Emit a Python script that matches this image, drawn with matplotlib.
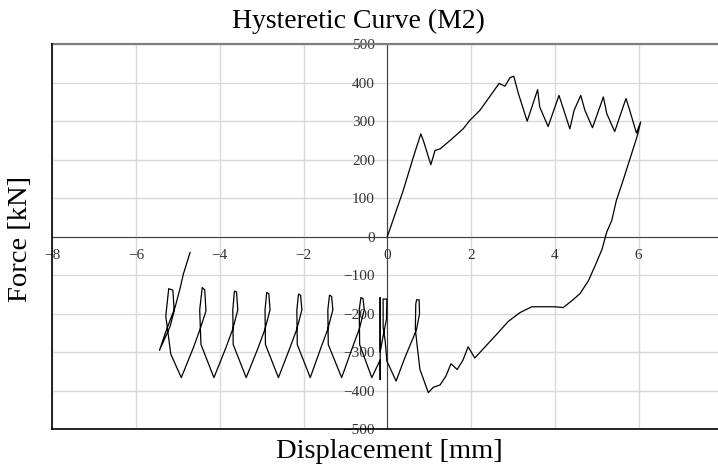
import matplotlib
matplotlib.use("Agg")
import matplotlib.pyplot as plt

# loading branch, 0 -> +6 mm
load_disp = [0.00, 0.38, 0.62, 0.80, 0.86, 1.04, 1.14, 1.26, 1.50, 1.81, 1.97, 2.21,
             2.67, 2.81, 2.93, 3.02, 3.13, 3.34, 3.59, 3.64, 3.84, 4.10, 4.36, 4.46,
             4.62, 4.72, 4.90, 5.16, 5.24, 5.43, 5.55, 5.70, 5.79, 5.95, 6.05]
load_force = [0, 120, 206, 267, 250, 187, 224, 228, 250, 280, 302, 328,
              398, 391, 413, 417, 372, 300, 382, 337, 286, 367, 280, 328,
              367, 328, 283, 363, 320, 273, 311, 359, 328, 269, 298]

# unloading branch, +6 mm back to about +1 mm
unload_disp = [5.97, 5.63, 5.47, 5.36, 5.24, 5.13, 4.98, 4.80, 4.60, 4.40, 4.20, 4.00,
               3.45, 3.17, 2.89, 2.65, 2.37, 2.09, 1.93, 1.81, 1.67, 1.52, 1.40, 1.26,
               1.10, 0.98]
unload_force = [262, 146, 94, 42, 12, -32, -71, -115, -148, -167, -184, -182,
                -182, -197, -220, -249, -282, -315, -286, -320, -345, -330, -362, -385,
                -391, -405]

# negative cycles, right to left
cyc_disp = [0.78, 0.72, 0.67, 0.68, 0.70, 0.76, 0.77, 0.70, 0.62, 0.42, 0.21,
            -0.01, -0.05, -0.10, -0.10, -0.01, -0.02, -0.10, -0.17, -0.17, -0.17, -0.17, -0.37,
            -0.66, -0.67, -0.63, -0.58, -0.55, -0.67, -0.84, -1.09,
            -1.41, -1.42, -1.38, -1.33, -1.30, -1.42, -1.59, -1.84,
            -2.15, -2.16, -2.12, -2.07, -2.04, -2.16, -2.33, -2.60,
            -2.91, -2.92, -2.88, -2.83, -2.80, -2.92, -3.09, -3.37,
            -3.68, -3.69, -3.65, -3.60, -3.57, -3.69, -3.86, -4.14,
            -4.45, -4.48, -4.42, -4.36, -4.33, -4.47, -4.63, -4.92,
            -5.17, -5.29, -5.22, -5.12, -5.09, -5.19, -5.44,
            -5.30, -5.18, -5.07, -4.95, -4.87, -4.71]
cyc_force = [-345, -290, -240, -175, -164, -164, -200, -240, -262, -314, -375,
             -323, -271, -235, -162, -162, -215, -258, -300, -158, -371, -320, -366,
             -280, -190, -158, -161, -190, -240, -290, -366,
             -280, -190, -152, -155, -190, -240, -290, -366,
             -280, -190, -149, -152, -190, -240, -290, -366,
             -280, -190, -145, -148, -190, -240, -290, -366,
             -280, -190, -141, -144, -190, -240, -290, -366,
             -280, -190, -132, -138, -193, -240, -288, -366,
             -305, -206, -135, -139, -193, -234, -295,
             -250, -215, -184, -135, -97, -41]

# the +8 gridline falls just past the right edge of the picture
x_ticks = [-8, -6, -4, -2, 0, 2, 4, 6]
y_ticks = [-500, -400, -300, -200, -100, 0, 100, 200, 300, 400, 500]

disp = load_disp + unload_disp + cyc_disp
force = load_force + unload_force + cyc_force

serif = "Liberation Serif"

fig = plt.figure(figsize=(7.18, 4.72), dpi=100)
ax = fig.add_axes([52.3 / 718, 1 - 429.2 / 472, 670 / 718, 385 / 472])

ax.plot(disp, force, color="black", lw=0.9, zorder=3)

ax.set_xlim(-8, 8)
ax.set_ylim(-500, 500)
ax.set_xticks(x_ticks)
ax.set_yticks(y_ticks)
ax.grid(True, color="#d9d9d9", lw=1.0, zorder=0)

# axes cross at zero, like the spreadsheet chart
ax.spines["left"].set_position(("data", 0))
ax.spines["bottom"].set_position(("data", 0))
ax.spines["left"].set_color("#404040")
ax.spines["bottom"].set_color("#404040")
ax.spines["top"].set_color("#7f7f7f")
ax.spines["top"].set_linewidth(1.6)
ax.spines["right"].set_visible(False)
ax.axvline(-8, color="black", lw=1.2, clip_on=False, zorder=4)
ax.axhline(-500, color="black", lw=1.2, clip_on=False, zorder=4)

ax.tick_params(length=0, pad=9, labelsize=11, labelcolor="#333333")
for lab in ax.get_xticklabels() + ax.get_yticklabels():
    lab.set_fontfamily(serif)

fig.text(358.5 / 718, 1 - 21 / 472, "Hysteretic Curve (M2)", ha="center", va="center",
         fontsize=20, family=serif)
fig.text(389.5 / 718, 1 - 452 / 472, "Displacement [mm]", ha="center", va="center",
         fontsize=20.5, family=serif)
fig.text(21 / 718, 1 - 238.5 / 472, "Force [kN]", ha="center", va="center",
         rotation=90, fontsize=20.5, family=serif)

fig.savefig("out.png", dpi=100)
